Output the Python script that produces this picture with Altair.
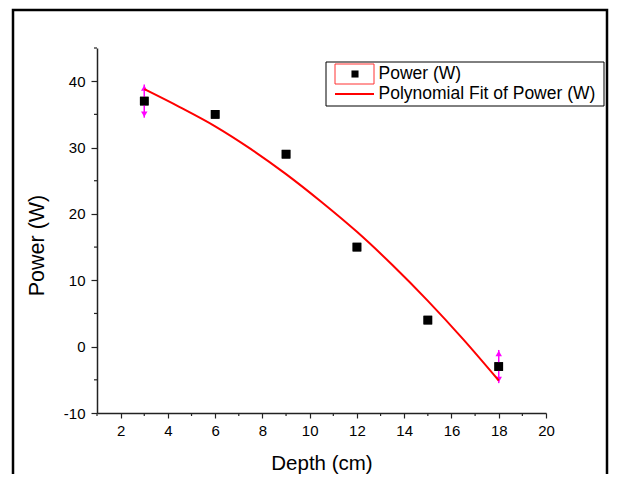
import altair as alt
import pandas as pd

# ---- data ----
depth = [3, 6, 9, 12, 15, 18]
power = [37, 35, 29, 15, 4, -3]

err_depth = [3, 18]
err_low = [34.5, -5.5]
err_high = [39.5, -0.5]

fit_depth = [3, 4.5, 6, 7.5, 9, 10.5, 12, 13.5, 15, 16.5, 18]
fit_power = [38.8, 36.1, 33.2, 29.8, 26.0, 21.8, 17.3, 12.3, 6.9, 1.1, -5.1]

x_major = [2, 4, 6, 8, 10, 12, 14, 16, 18, 20]
x_minor = [1, 3, 5, 7, 9, 11, 13, 15, 17, 19]
y_major = [-10, 0, 10, 20, 30, 40]
y_minor = [-5, 5, 15, 25, 35, 45]

legend_labels = ["Power (W)", "Polynomial Fit of Power (W)"]

W, H = 449, 365
FONT = "Liberation Sans"

pts = pd.DataFrame({"depth": depth, "power": power})
err = pd.DataFrame({"depth": err_depth, "low": err_low, "high": err_high})
fit = pd.DataFrame({"depth": fit_depth, "power": fit_power})
xmin = pd.DataFrame({"depth": x_minor})
ymin = pd.DataFrame({"power": y_minor})
one = pd.DataFrame({"a": [0]})

xs = alt.Scale(domain=[1, 20], nice=False, zero=False)
ys = alt.Scale(domain=[-10, 45], nice=False, zero=False)

xaxis = alt.Axis(values=x_major, tickSize=5, tickColor="#222", domainColor="#222",
                 domainWidth=1.5, tickWidth=1.2, labelFont=FONT, labelFontSize=15,
                 labelColor="black", labelPadding=5, grid=False, labelFlush=False,
                 labelExpr="'' + datum.value",
                 titleFont=FONT, titleFontSize=20.5,
                 titleFontWeight="normal", titleColor="black",
                 titleY=56, titleBaseline="alphabetic")
yaxis = alt.Axis(values=y_major, tickSize=6, tickColor="#222", domainColor="#222",
                 domainWidth=1.5, tickWidth=1.2, labelFont=FONT, labelFontSize=15,
                 labelColor="black", labelPadding=6, grid=False, labelFlush=False,
                 labelExpr="'' + datum.value",
                 titleFont=FONT, titleFontSize=21.5,
                 titleFontWeight="normal", titleColor="black",
                 titleAngle=270, titleX=-60, titleY=197,
                 titleAlign="center", titleBaseline="middle")


def X(f="depth"):
    return alt.X(f"{f}:Q", scale=xs, axis=xaxis, title="Depth (cm)")


def Y(f="power"):
    return alt.Y(f"{f}:Q", scale=ys, axis=yaxis, title="Power (W)")


# minor ticks
xminor = alt.Chart(xmin).mark_rule(color="#222", strokeWidth=1.2, clip=False).encode(
    x=X(), y=alt.value(H), y2=alt.value(H + 3))
yminor = alt.Chart(ymin).mark_rule(color="#222", strokeWidth=1.2, clip=False).encode(
    y=Y(), x=alt.value(0), x2=alt.value(-3))

# error bars
ebar = alt.Chart(err).mark_rule(color="#ff00ff", strokeWidth=1.5).encode(
    x=X(), y=Y("low"), y2="high:Q")
eup = alt.Chart(err).mark_point(shape="triangle-up", filled=True, color="#ff00ff",
                                size=42, opacity=1, yOffset=3.5).encode(
    x=X(), y=Y("high"))
edown = alt.Chart(err).mark_point(shape="triangle-down", filled=True, color="#ff00ff",
                                  size=42, opacity=1, yOffset=-3.5).encode(
    x=X(), y=Y("low"))

line = alt.Chart(fit).mark_line(color="#ff0000", strokeWidth=2, interpolate="monotone").encode(
    x=X(), y=Y())

points = alt.Chart(pts).mark_square(color="black", size=75, opacity=1).encode(x=X(), y=Y())

# legend (drawn by hand)
lbox = alt.Chart(one).mark_rect(fill="white", stroke="black", strokeWidth=1, clip=False).encode(
    x=alt.value(229), x2=alt.value(507), y=alt.value(14), y2=alt.value(58))
lsym = alt.Chart(one).mark_rect(fill="white", stroke="#ff3333", strokeWidth=1).encode(
    x=alt.value(238), x2=alt.value(277), y=alt.value(16), y2=alt.value(36))
lsq = alt.Chart(one).mark_square(color="black", size=50, opacity=1).encode(
    x=alt.value(258), y=alt.value(26))
lline = alt.Chart(one).mark_rule(color="#ff0000", strokeWidth=2).encode(
    x=alt.value(238), x2=alt.value(277), y=alt.value(46))
ltxt1 = alt.Chart(one).mark_text(align="left", baseline="alphabetic", font=FONT,
                                 fontSize=17.5, color="black").encode(
    x=alt.value(281.5), y=alt.value(31.3), text=alt.value(legend_labels[0]))
ltxt2 = alt.Chart(one).mark_text(align="left", baseline="alphabetic", font=FONT,
                                 fontSize=17.5, color="black").encode(
    x=alt.value(281.5), y=alt.value(51.3), text=alt.value(legend_labels[1]))

# outer frame (kept inside the drawing surface)
frame = alt.Chart(one).mark_rect(fill=None, stroke="black", strokeWidth=2.5, clip=False).encode(
    x=alt.value(-84), x2=alt.value(510), y=alt.value(-38), y2=alt.value(440))

chart = alt.layer(
    points, frame, xminor, yminor, ebar, eup, edown, line, points,
    lbox, lsym, lsq, lline, ltxt1, ltxt2
).properties(
    width=W, height=H,
    autosize=alt.AutoSizeParams(type="none"),
    padding={"left": 89, "top": 40, "right": 63, "bottom": 61},
    background="white",
).configure_view(stroke=None)

chart.save("out.html", embed_options={"renderer": "svg", "actions": False})
